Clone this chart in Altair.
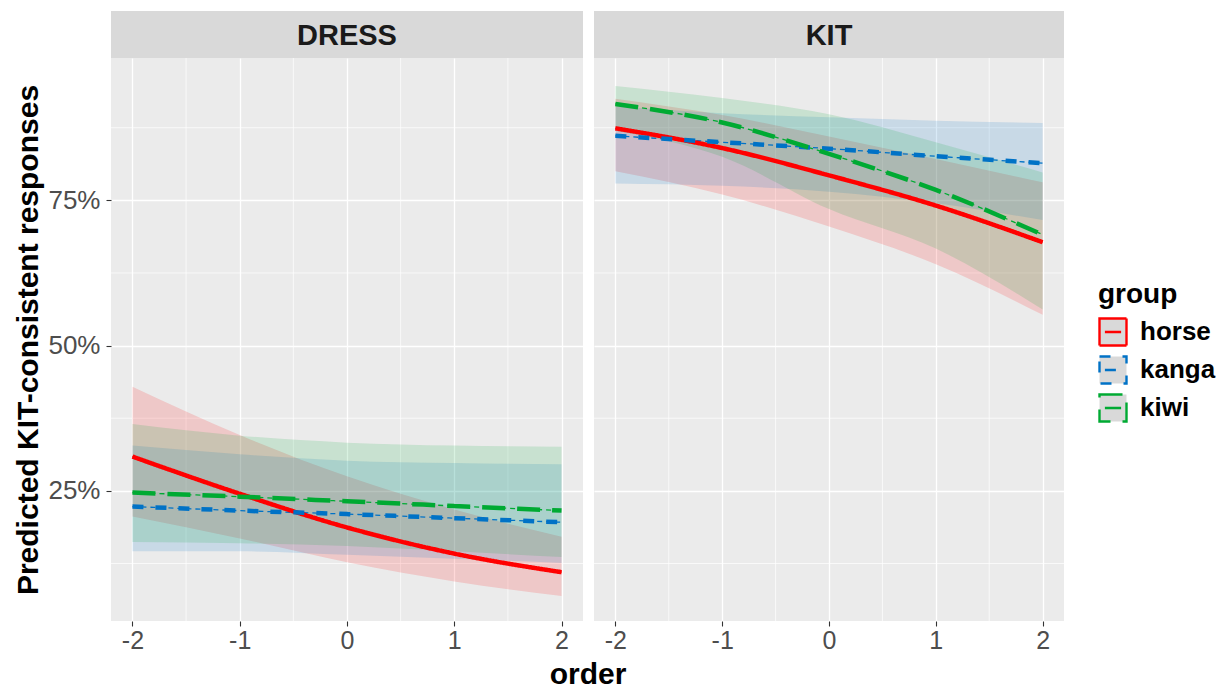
import altair as alt
import pandas as pd

# ---------------- data ----------------
x_vals = [-2, -1, 0, 1, 2]
groups = ["horse", "kanga", "kiwi"]
panels = ["DRESS", "KIT"]
colors = ["#FF0000", "#0072C6", "#00AA33"]

x_ticks = [-2, -1, 0, 1, 2]
x_minor = [-1.5, -0.5, 0.5, 1.5]
y_ticks = [0.25, 0.5, 0.75]
y_minor = [0.125, 0.375, 0.625, 0.875]

dress_horse_fit = [0.309, 0.245, 0.187, 0.142, 0.110]
dress_horse_lo = [0.206, 0.168, 0.127, 0.094, 0.069]
dress_horse_hi = [0.429, 0.346, 0.275, 0.218, 0.171]
dress_kanga_fit = [0.223, 0.216, 0.210, 0.203, 0.196]
dress_kanga_lo = [0.146, 0.146, 0.140, 0.133, 0.126]
dress_kanga_hi = [0.328, 0.313, 0.302, 0.298, 0.296]
dress_kiwi_fit = [0.247, 0.240, 0.232, 0.224, 0.216]
dress_kiwi_lo = [0.162, 0.160, 0.155, 0.146, 0.136]
dress_kiwi_hi = [0.365, 0.345, 0.333, 0.328, 0.326]

kit_horse_fit = [0.874, 0.840, 0.793, 0.741, 0.678]
kit_horse_lo = [0.800, 0.760, 0.705, 0.640, 0.553]
kit_horse_hi = [0.925, 0.897, 0.860, 0.821, 0.781]
kit_kanga_fit = [0.861, 0.850, 0.839, 0.826, 0.814]
kit_kanga_lo = [0.779, 0.775, 0.765, 0.745, 0.716]
kit_kanga_hi = [0.912, 0.900, 0.893, 0.887, 0.883]
kit_kiwi_fit = [0.916, 0.884, 0.830, 0.768, 0.691]
kit_kiwi_lo = [0.870, 0.825, 0.735, 0.667, 0.562]
kit_kiwi_hi = [0.947, 0.926, 0.898, 0.850, 0.798]

series = {
    ("DRESS", "horse"): (dress_horse_fit, dress_horse_lo, dress_horse_hi),
    ("DRESS", "kanga"): (dress_kanga_fit, dress_kanga_lo, dress_kanga_hi),
    ("DRESS", "kiwi"): (dress_kiwi_fit, dress_kiwi_lo, dress_kiwi_hi),
    ("KIT", "horse"): (kit_horse_fit, kit_horse_lo, kit_horse_hi),
    ("KIT", "kanga"): (kit_kanga_fit, kit_kanga_lo, kit_kanga_hi),
    ("KIT", "kiwi"): (kit_kiwi_fit, kit_kiwi_lo, kit_kiwi_hi),
}

rows = []
for (p, g), (fit, lo, hi) in series.items():
    for i, xv in enumerate(x_vals):
        rows.append({"panel": p, "group": g, "order": xv,
                     "fit": fit[i], "lo": lo[i], "hi": hi[i]})
df = pd.DataFrame(rows)

# ---------------- layout / style ----------------
FONT = "Liberation Sans"
W1, W2, H, STRIP, GAP = 472, 470, 563, 47, 11

xscale = alt.Scale(domain=[-2.2, 2.2], nice=False, zero=False)
yscale = alt.Scale(domain=[0.026, 0.995], nice=False, zero=False)

leg = alt.Legend(
    title="group", titleFontSize=28, titleFontWeight="bold", titleColor="black",
    titleFont=FONT, labelFont=FONT,
    labelFontSize=26, labelFontWeight="bold", labelColor="black",
    symbolType="M-1,-1L1,-1L1,1L-1,1Z M-0.6,0L0.6,0", symbolSize=729,
    symbolStrokeWidth=2.4, symbolFillColor="#D9D9D9",
    orient="none", legendX=987, legendY=223, rowPadding=0, labelOffset=12,
    titlePadding=8, padding=0,
)

# fill / stroke helper scales: data-driven domain (alphabetical = groups order)
aux_scale = alt.Scale(range=colors)


def make_panel(name, width, left):
    xaxis = alt.Axis(
        values=x_ticks, grid=True, gridColor="white", gridWidth=1.3, domain=False,
        tickColor="#333333", tickSize=5, tickWidth=1.1,
        labelFontSize=25, labelColor="#4D4D4D", labelPadding=2, labelFont=FONT,
        labelExpr="replace(datum.label, '\u2212', '-')",
        title="order" if left else None,
        titleFontSize=30, titleFontWeight="bold", titleColor="black", titleFont=FONT,
        titlePadding=6, titleX=(W1 + GAP + W2) / 2,
    )
    if left:
        yaxis = alt.Axis(
            values=y_ticks, format=".0%", grid=True, gridColor="white", gridWidth=1.3,
            domain=False, tickColor="#333333", tickSize=5, tickWidth=1.1,
            labelFontSize=26, labelColor="#4D4D4D", labelPadding=6, labelFont=FONT,
            title="Predicted KIT-consistent responses", titleFontSize=30,
            titleFontWeight="bold", titleColor="black", titlePadding=4, titleFont=FONT,
        )
    else:
        yaxis = alt.Axis(
            values=y_ticks, grid=True, gridColor="white", gridWidth=1.3, domain=False,
            ticks=False, labels=False, title=None,
        )

    d = df[df["panel"] == name]

    minor_x = alt.Chart(pd.DataFrame({"xm": x_minor})).mark_rule(
        color="white", strokeWidth=0.7
    ).encode(x=alt.X("xm:Q", scale=xscale, axis=xaxis))
    minor_y = alt.Chart(pd.DataFrame({"ym": y_minor})).mark_rule(
        color="white", strokeWidth=0.7
    ).encode(y=alt.Y("ym:Q", scale=yscale, axis=yaxis))

    strip_df = pd.DataFrame({"panel": [name]})
    strip = alt.Chart(strip_df).mark_rect(color="#D9D9D9").encode(
        x=alt.value(0), x2=alt.value(width), y=alt.value(-STRIP), y2=alt.value(0)
    )
    strip_text = alt.Chart(strip_df).mark_text(
        font=FONT, fontSize=29, fontWeight="bold", color="#1A1A1A", baseline="middle"
    ).encode(text="panel:N", x=alt.value(width / 2), y=alt.value(-STRIP / 2 + 1))

    band = alt.Chart(d).mark_area(opacity=0.15, interpolate="monotone").encode(
        x=alt.X("order:Q", scale=xscale, axis=xaxis),
        y=alt.Y("lo:Q", scale=yscale, axis=yaxis),
        y2="hi:Q",
        fill=alt.Fill("group:N", scale=aux_scale, legend=None),
    )

    thin = alt.Chart(d).mark_line(
        strokeWidth=1.3, strokeDash=[5, 4], interpolate="monotone"
    ).encode(
        x=alt.X("order:Q", scale=xscale, axis=xaxis),
        y=alt.Y("fit:Q", scale=yscale, axis=yaxis),
        stroke=alt.Stroke("group:N", scale=aux_scale, legend=None),
    )

    thick = alt.Chart(d).mark_line(
        strokeWidth=4.5, strokeCap="butt", interpolate="monotone"
    ).encode(
        x=alt.X("order:Q", scale=xscale, axis=xaxis),
        y=alt.Y("fit:Q", scale=yscale, axis=yaxis),
        color=alt.Color("group:N", scale=alt.Scale(domain=groups, range=colors), legend=leg),
        strokeDash=alt.StrokeDash(
            "group:N",
            scale=alt.Scale(domain=groups, range=[[1, 0], [11, 12], [23, 12]]),
            legend=leg,
        ),
    )

    return alt.layer(minor_x, minor_y, strip, strip_text, band, thin, thick).properties(
        width=width, height=H
    )


chart = alt.hconcat(
    make_panel("DRESS", W1, True),
    make_panel("KIT", W2, False),
    spacing=GAP,
    bounds="flush",
).properties(
    padding={"left": 5, "top": 3, "right": 0, "bottom": 0}
).configure(
    font=FONT
).configure_view(
    fill="#EBEBEB", stroke=None
)

chart.save("out.html", embed_options={"renderer": "svg", "actions": False})
